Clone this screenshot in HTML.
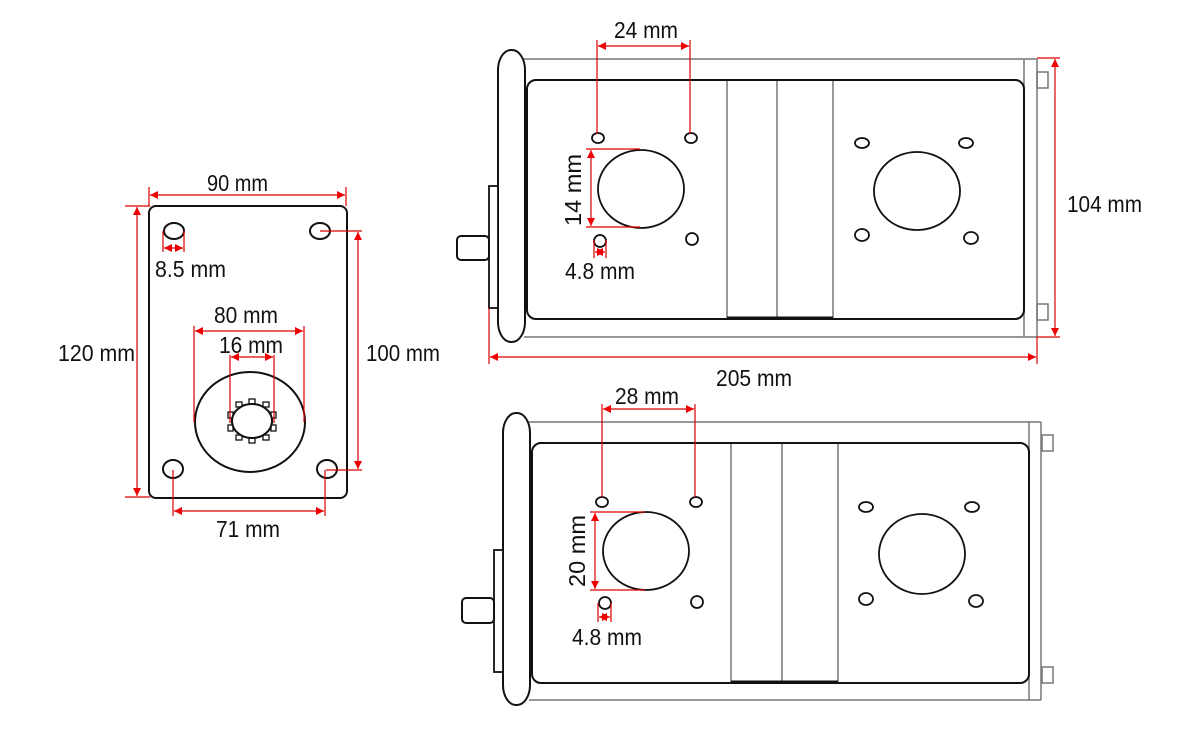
<!DOCTYPE html>
<html><head><meta charset="utf-8"><style>
html,body{margin:0;padding:0;background:#fff;}
svg{display:block;}
text{font-family:"Liberation Sans",Arial,sans-serif;font-size:23px;fill:#111;}
</style></head><body>
<svg width="1200" height="733" viewBox="0 0 1200 733" xmlns="http://www.w3.org/2000/svg">
<defs>
<marker id="a" viewBox="0 0 10 10" refX="10" refY="5" markerWidth="10" markerHeight="8" orient="auto-start-reverse" markerUnits="userSpaceOnUse"><path d="M0,0L10,5L0,10z" fill="#e00"/></marker>
</defs>
<g fill="none" stroke="#111">
<!-- FRONT PLATE -->
<rect x="149" y="206" width="198" height="292" rx="7" stroke-width="2"/>
<ellipse cx="174" cy="231" rx="10" ry="8" stroke-width="2"/>
<ellipse cx="320" cy="231" rx="10" ry="8" stroke-width="2"/>
<ellipse cx="173" cy="469" rx="10" ry="9" stroke-width="2"/>
<ellipse cx="327" cy="469" rx="10" ry="9" stroke-width="2"/>
<ellipse cx="250" cy="422" rx="55" ry="50" stroke-width="2"/>
<ellipse cx="252" cy="421" rx="20" ry="17" stroke-width="2"/>
<g stroke-width="1.3" fill="#fff">
<rect x="249" y="399" width="6" height="5"/><rect x="263" y="402" width="6" height="5"/><rect x="271" y="412" width="5" height="6"/>
<rect x="271" y="425" width="5" height="6"/><rect x="263" y="435" width="6" height="5"/><rect x="249" y="438" width="6" height="5"/>
<rect x="236" y="435" width="6" height="5"/><rect x="228" y="425" width="5" height="6"/><rect x="228" y="412" width="5" height="6"/><rect x="236" y="402" width="6" height="5"/>
</g>
<ellipse cx="252" cy="421" rx="20" ry="17" stroke-width="2" fill="#fff"/>

<!-- TOP SIDE VIEW -->
<g stroke="#777" stroke-width="1.5">
<path d="M524 59H1037M524 337H1037M1024 59V337M1037 59V337"/>
<rect x="1037" y="72" width="11" height="16"/>
<rect x="1037" y="304" width="11" height="16"/>
<path d="M727 80V318M777 80V318M833 80V318"/>
</g>
<rect x="527" y="80" width="497" height="239" rx="9" stroke-width="2"/>
<path d="M727 318H833" stroke-width="3"/>
<rect x="498" y="50" width="27" height="292" rx="13" ry="20" stroke-width="2" fill="#fff"/>
<rect x="489" y="186" width="9" height="122" stroke-width="1.8" fill="#fff"/>
<rect x="457" y="236" width="32" height="24" rx="4" stroke-width="2" fill="#fff"/>
<g stroke-width="1.8">
<ellipse cx="598" cy="138" rx="6" ry="5"/><ellipse cx="691" cy="138" rx="6" ry="5"/>
<ellipse cx="600" cy="241" rx="6" ry="6"/><ellipse cx="692" cy="239" rx="6" ry="6"/>
<ellipse cx="641" cy="189" rx="43" ry="39"/>
<ellipse cx="862" cy="143" rx="7" ry="5"/><ellipse cx="966" cy="143" rx="7" ry="5"/>
<ellipse cx="862" cy="235" rx="7" ry="6"/><ellipse cx="971" cy="238" rx="7" ry="6"/>
<ellipse cx="917" cy="191" rx="43" ry="39"/>
</g>

<!-- BOTTOM SIDE VIEW -->
<g stroke="#777" stroke-width="1.5">
<path d="M529 422H1041M529 700H1041M1029 422V700M1041 422V700"/>
<rect x="1042" y="435" width="11" height="16"/>
<rect x="1042" y="667" width="11" height="16"/>
<path d="M731 443V682M782 443V682M838 443V682"/>
</g>
<rect x="532" y="443" width="497" height="240" rx="9" stroke-width="2"/>
<path d="M731 682H838" stroke-width="3"/>
<rect x="503" y="413" width="27" height="292" rx="13" ry="20" stroke-width="2" fill="#fff"/>
<rect x="494" y="550" width="9" height="122" stroke-width="1.8" fill="#fff"/>
<rect x="462" y="598" width="32" height="25" rx="4" stroke-width="2" fill="#fff"/>
<g stroke-width="1.8">
<ellipse cx="602" cy="502" rx="6" ry="5"/><ellipse cx="696" cy="502" rx="6" ry="5"/>
<ellipse cx="605" cy="603" rx="6" ry="6"/><ellipse cx="697" cy="602" rx="6" ry="6"/>
<ellipse cx="646" cy="551" rx="43" ry="39"/>
<ellipse cx="866" cy="507" rx="7" ry="5"/><ellipse cx="972" cy="507" rx="7" ry="5"/>
<ellipse cx="866" cy="599" rx="7" ry="6"/><ellipse cx="976" cy="601" rx="7" ry="6"/>
<ellipse cx="922" cy="554" rx="43" ry="40"/>
</g>
</g>

<!-- DIMENSIONS -->
<g stroke="#d00" stroke-width="1.2" fill="none">
<path d="M149 187V206M346 187V206"/>
<path d="M150 195H345" marker-start="url(#a)" marker-end="url(#a)"/>
<path d="M125 206H150M125 497H150"/>
<path d="M137 207V496" marker-start="url(#a)" marker-end="url(#a)"/>
<path d="M320 231H362M326 470H362"/>
<path d="M358 232V469" marker-start="url(#a)" marker-end="url(#a)"/>
<path d="M163 231V252M184 231V252"/>
<path d="M164 248H183" marker-start="url(#a)" marker-end="url(#a)"/>
<path d="M194 326V422M304 326V422"/>
<path d="M195 331H303" marker-start="url(#a)" marker-end="url(#a)"/>
<path d="M230 355V423M274 355V423"/>
<path d="M231 357H273" marker-start="url(#a)" marker-end="url(#a)"/>
<path d="M173 470V516M325 470V516"/>
<path d="M174 511H324" marker-start="url(#a)" marker-end="url(#a)"/>
<path d="M597 40V134M690 40V134"/>
<path d="M598 46H689" marker-start="url(#a)" marker-end="url(#a)"/>
<path d="M586 149H640M586 227H640"/>
<path d="M591 150V226" marker-start="url(#a)" marker-end="url(#a)"/>
<path d="M594 240V258M606 240V258"/>
<path d="M595 252H605" marker-start="url(#a)" marker-end="url(#a)"/>
<path d="M1037 58H1060M1037 337H1060"/>
<path d="M1055 59V336" marker-start="url(#a)" marker-end="url(#a)"/>
<path d="M489 308V364M1037 337V364"/>
<path d="M490 357H1036" marker-start="url(#a)" marker-end="url(#a)"/>
<path d="M602 404V497M695 404V497"/>
<path d="M603 409H694" marker-start="url(#a)" marker-end="url(#a)"/>
<path d="M590 512H645M590 590H645"/>
<path d="M595 513V589" marker-start="url(#a)" marker-end="url(#a)"/>
<path d="M598 603V622M611 603V622"/>
<path d="M599 617H610" marker-start="url(#a)" marker-end="url(#a)"/>
</g>

<g>
<text x="207" y="191" textLength="61" lengthAdjust="spacingAndGlyphs">90 mm</text>
<text x="58" y="361" textLength="77" lengthAdjust="spacingAndGlyphs">120 mm</text>
<text x="366" y="361" textLength="74" lengthAdjust="spacingAndGlyphs">100 mm</text>
<text x="155" y="277" textLength="71" lengthAdjust="spacingAndGlyphs">8.5 mm</text>
<text x="214" y="323" textLength="64" lengthAdjust="spacingAndGlyphs">80 mm</text>
<text x="219" y="353" textLength="64" lengthAdjust="spacingAndGlyphs">16 mm</text>
<text x="216" y="537" textLength="64" lengthAdjust="spacingAndGlyphs">71 mm</text>
<text x="614" y="38" textLength="64" lengthAdjust="spacingAndGlyphs">24 mm</text>
<text transform="translate(581,190) rotate(-90)" x="-36" textLength="72" lengthAdjust="spacingAndGlyphs">14 mm</text>
<text x="565" y="279" textLength="70" lengthAdjust="spacingAndGlyphs">4.8 mm</text>
<text x="1067" y="212" textLength="75" lengthAdjust="spacingAndGlyphs">104 mm</text>
<text x="716" y="386" textLength="76" lengthAdjust="spacingAndGlyphs">205 mm</text>
<text x="615" y="404" textLength="64" lengthAdjust="spacingAndGlyphs">28 mm</text>
<text transform="translate(585,551) rotate(-90)" x="-36" textLength="72" lengthAdjust="spacingAndGlyphs">20 mm</text>
<text x="572" y="645" textLength="70" lengthAdjust="spacingAndGlyphs">4.8 mm</text>
</g>
</svg>
</body></html>
